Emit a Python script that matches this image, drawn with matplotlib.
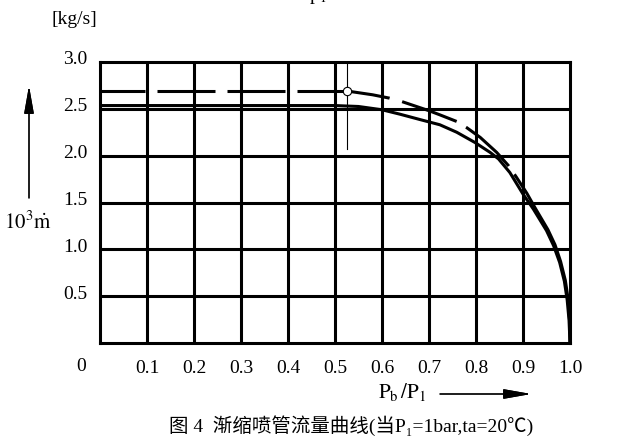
import matplotlib
matplotlib.use('Agg')
import matplotlib.pyplot as plt
from matplotlib.transforms import ScaledTranslation

plt.rcParams['lines.scale_dashes'] = False
plt.rcParams['mathtext.fontset'] = 'stix'

# ---- data ----
x_ticks = [0.1, 0.2, 0.3, 0.4, 0.5, 0.6, 0.7, 0.8, 0.9, 1.0]
x_labels = ['0.1', '0.2', '0.3', '0.4', '0.5', '0.6', '0.7', '0.8', '0.9', '1.0']
y_ticks = [0.5, 1.0, 1.5, 2.0, 2.5, 3.0]
y_labels = ['0.5', '1.0', '1.5', '2.0', '2.5', '3.0']

# measured curve (solid)
solid_x = [0, 0.5, 0.55, 0.6, 0.638, 0.685, 0.723, 0.759, 0.798, 0.83, 0.848,
           0.872, 0.9, 0.922, 0.95, 0.965, 0.978, 0.988, 0.994, 0.998, 1.0]
solid_y = [2.535, 2.535, 2.525, 2.49, 2.443, 2.38, 2.33, 2.25, 2.14, 2.035, 1.965,
           1.82, 1.59, 1.43, 1.20, 1.04, 0.86, 0.66, 0.46, 0.24, 0.0]

# theoretical curve (dashed), flat part and falling part
flat_x = [0, 0.526]
flat_y = [2.69, 2.69]
fall_x = [0.526, 0.58, 0.616, 0.642, 0.7, 0.723, 0.759, 0.78, 0.809, 0.844,
          0.869, 0.886, 0.908, 0.926, 0.953, 0.968, 0.98, 0.99, 0.996, 0.999, 1.0]
fall_y = [2.69, 2.65, 2.614, 2.578, 2.48, 2.436, 2.365, 2.30, 2.195, 2.035,
          1.894, 1.77, 1.60, 1.44, 1.21, 1.05, 0.87, 0.67, 0.47, 0.25, 0.0]

crit_x = 0.526
crit_y = 2.69
crit_line = [2.07, 3.0]

caption = '图 4  渐缩喷管流量曲线(当P₁=1bar,ta=20℃)'

LW = 2.2
px = 0.72  # points per pixel at dpi 100

fig = plt.figure(figsize=(6.19, 4.46), dpi=100)
ax = fig.add_axes([100 / 619, 1 - 343 / 446, 470 / 619, 281 / 446])

ax.set_xlim(0, 1.0)
ax.set_ylim(0, 3.0)

for x in x_ticks[:-1]:
    ax.axvline(x, color='black', lw=LW, zorder=1)
for y in y_ticks[:-1]:
    ax.axhline(y, color='black', lw=LW, zorder=1)

for s in ax.spines.values():
    s.set_linewidth(LW)
    s.set_zorder(3)

ax.plot(solid_x, solid_y, color='black', lw=LW, zorder=2)
ax.plot(flat_x, flat_y, color='black', lw=LW, zorder=2,
        linestyle=(13 * px, (58 * px, 12 * px)))
ax.plot(fall_x, fall_y, color='black', lw=LW, zorder=2,
        linestyle=(0, (43 * px, 13 * px, 58 * px, 11 * px, 58 * px, 10 * px,
                       2000 * px, 1 * px)))
ax.plot([crit_x, crit_x], crit_line, color='black', lw=0.8, zorder=2)
ax.plot([crit_x], [crit_y], marker='o', ms=6, mfc='white', mec='black',
        mew=0.8, zorder=4)

serif = 'Liberation Serif'
ax.set_xticks(x_ticks)
ax.set_xticklabels(x_labels, fontfamily=serif, fontsize=14)
ax.set_yticks(y_ticks)
ax.set_yticklabels(y_labels, fontfamily=serif, fontsize=14)
ax.tick_params(length=0, pad=12)
ax.tick_params(axis='y', pad=9)
for lab in ax.get_yticklabels():
    lab.set_transform(lab.get_transform() + ScaledTranslation(0, 4 / 100, fig.dpi_scale_trans))
ax.text(-0.04, -0.085, '0', transform=ax.transAxes, ha='center', va='center',
        fontfamily=serif, fontsize=14)

# axis titles and arrows
fig.text(74 / 619, 1 - 20 / 446, '[kg/s]', ha='center', va='center',
         fontfamily=serif, fontsize=14)
fig.text(28 / 619, 1 - 222 / 446, r'$\mathrm{10^3}\dot{\mathrm{m}}$',
         ha='center', va='center', fontsize=15)
fig.text(402 / 619, 1 - 392 / 446, r'$\mathrm{P_b\,/P_1}$',
         ha='center', va='center', fontsize=15)

fig.add_artist(plt.annotate('', xy=(29, 446 - 86), xycoords='figure pixels',
                            xytext=(29, 446 - 198), textcoords='figure pixels',
                            arrowprops=dict(arrowstyle='-|>,head_length=0.85,head_width=0.15',
                                            color='black', lw=0.9, mutation_scale=20,
                                            shrinkA=0, shrinkB=0)))
fig.add_artist(plt.annotate('', xy=(531, 446 - 394), xycoords='figure pixels',
                            xytext=(440, 446 - 394), textcoords='figure pixels',
                            arrowprops=dict(arrowstyle='-|>,head_length=0.85,head_width=0.15',
                                            color='black', lw=0.9, mutation_scale=20,
                                            shrinkA=0, shrinkB=0)))

fig.text(351 / 619, 1 - 426 / 446, caption, ha='center', va='center',
         fontsize=14, family=['Liberation Serif', 'Noto Sans CJK SC', 'DejaVu Sans'])

# bottom of a clipped line from the text above
fig.text(318 / 619, 1 + 4 / 446, r'$\mathrm{p_1}$', ha='center', va='center',
         fontsize=14)

fig.savefig('out.png', dpi=100)
